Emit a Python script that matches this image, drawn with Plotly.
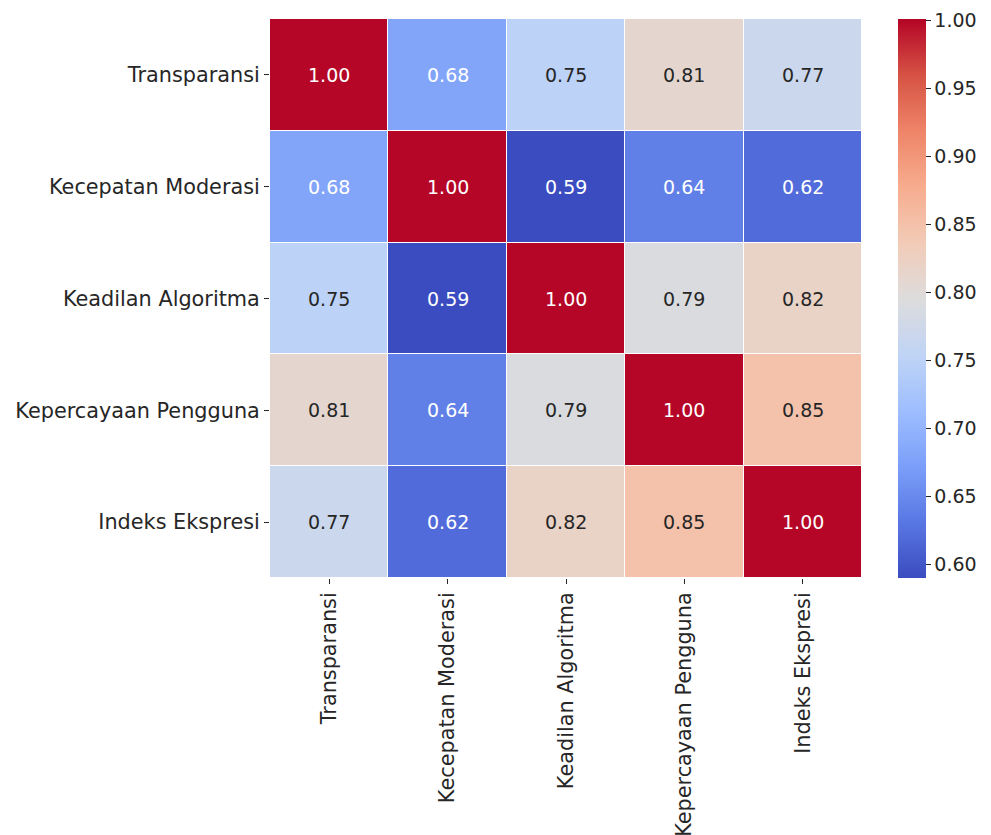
import plotly.graph_objects as go

labels = ["Transparansi", "Kecepatan Moderasi", "Keadilan Algoritma",
          "Kepercayaan Pengguna", "Indeks Ekspresi"]
row_transparansi = [1.00, 0.68, 0.75, 0.81, 0.77]
row_kecepatan = [0.68, 1.00, 0.59, 0.64, 0.62]
row_keadilan = [0.75, 0.59, 1.00, 0.79, 0.82]
row_kepercayaan = [0.81, 0.64, 0.79, 1.00, 0.85]
row_indeks = [0.77, 0.62, 0.82, 0.85, 1.00]
corr = [row_transparansi, row_kecepatan, row_keadilan, row_kepercayaan, row_indeks]
cbar_ticks = [0.60, 0.65, 0.70, 0.75, 0.80, 0.85, 0.90, 0.95, 1.00]

coolwarm_hex = ["#3b4cc0", "#5977e3", "#7b9ff9", "#9ebeff", "#c0d4f5", "#dddcdc",
                "#f2cbb7", "#f7ac8e", "#ee8468", "#d65244", "#b40426"]
n = len(coolwarm_hex) - 1
colorscale = [[i / n, c] for i, c in enumerate(coolwarm_hex)]

zmin = min(min(r) for r in corr)
zmax = max(max(r) for r in corr) + 0.0012


def hex2rgb(h):
    return [int(h[i:i + 2], 16) / 255 for i in (1, 3, 5)]


def color_at(v):
    t = (v - zmin) / (zmax - zmin)
    t = min(max(t, 0), 1) * n
    i = min(int(t), n - 1)
    f = t - i
    a, b = hex2rgb(coolwarm_hex[i]), hex2rgb(coolwarm_hex[i + 1])
    return [a[k] + (b[k] - a[k]) * f for k in range(3)]


def lum(rgb):
    lin = [c / 12.92 if c <= 0.03928 else ((c + 0.055) / 1.055) ** 2.4 for c in rgb]
    return 0.2126 * lin[0] + 0.7152 * lin[1] + 0.0722 * lin[2]


font_family = "DejaVu Sans"
fs_num = 19
fs_lab = 20.8

fig = go.Figure(go.Heatmap(
    z=corr, x=labels, y=labels, colorscale=colorscale, zmin=zmin, zmax=zmax,
    xgap=1, ygap=1,
    colorbar=dict(
        thickness=28, len=1.0, lenmode="fraction", y=0.5, yanchor="middle",
        x=1.0608, xanchor="left", xpad=0, ypad=0, outlinewidth=0,
        tickvals=cbar_ticks, tickformat=".2f", ticks="outside", ticklen=5,
        tickcolor="#262626", tickfont=dict(family=font_family, size=fs_num, color="#262626"),
    ),
))

annotations = []
for i, rlab in enumerate(labels):
    for j, clab in enumerate(labels):
        v = corr[i][j]
        col = "#262626" if lum(color_at(v)) > 0.408 else "white"
        annotations.append(dict(x=clab, y=rlab, text=f"{v:.2f}", showarrow=False,
                                font=dict(family=font_family, size=fs_num, color=col)))

fig.update_layout(
    width=983, height=827,
    margin=dict(l=262, r=129, t=11, b=257),
    plot_bgcolor="white", paper_bgcolor="white",
    font=dict(family=font_family, size=fs_num, color="#262626"),
    annotations=annotations,
    xaxis=dict(tickangle=-90, ticks="outside", ticklen=5, tickcolor="#262626",
               showgrid=False, zeroline=False, automargin=False,
               tickfont=dict(family=font_family, size=fs_lab, color="#262626")),
    yaxis=dict(autorange="reversed", ticks="outside", ticklen=5, tickcolor="#262626",
               showgrid=False, zeroline=False, automargin=False,
               tickfont=dict(family=font_family, size=fs_lab, color="#262626")),
)

fig.write_html("out.html")
